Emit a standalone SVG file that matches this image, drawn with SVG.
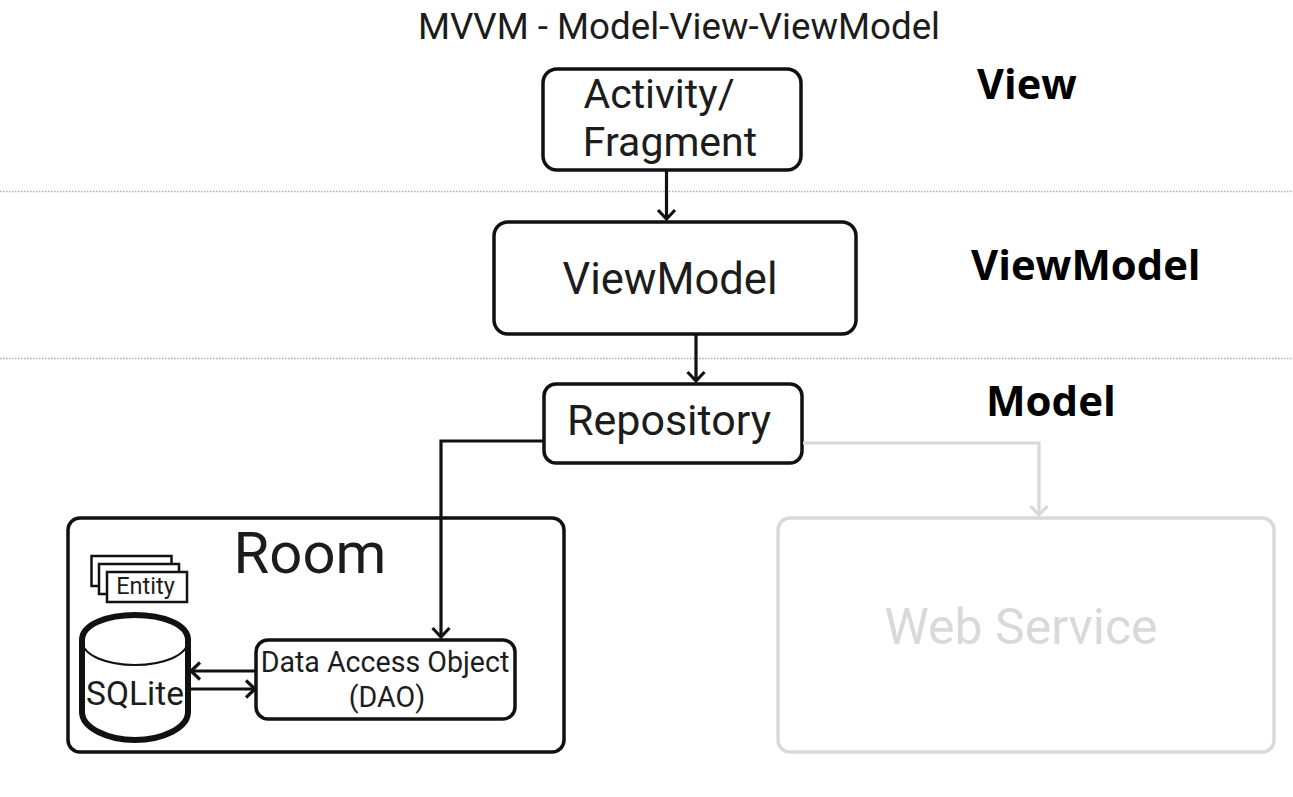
<svg xmlns="http://www.w3.org/2000/svg" width="1293" height="797" viewBox="0 0 1293 797">
<style>
text{font-family:Roboto,"Liberation Sans",sans-serif;fill:#1c1c1c;text-anchor:middle}
.b{fill:#fff;stroke:#111;stroke-width:3.500}
.g{fill:#fff;stroke:#d9d9d9;stroke-width:3.500}
.l{font-family:"Open Sans","Liberation Sans",sans-serif;font-weight:700;fill:#000;text-anchor:start}
.c{fill:none;stroke:#111;stroke-width:3.200}
.gc{fill:none;stroke:#d9d9d9;stroke-width:3.200}
.d{stroke:#aaa;stroke-width:1.500;stroke-dasharray:1.500 1.500;fill:none}
</style>
<rect width="1293" height="797" fill="#fff"/>
<text id="title" x="679" y="39" font-size="36.700">MVVM - Model-View-ViewModel</text>
<g id="separators">
<path class="d" d="M0 191.500H1293"/>
<path class="d" d="M0 358.500H1293"/>
</g>
<g id="layer-labels">
<text class="l" x="977" y="99" font-size="41.500">View</text>
<text class="l" x="971" y="280" font-size="41.800">ViewModel</text>
<text class="l" x="986" y="416" font-size="42">Model</text>
</g>
<g id="activity-fragment">
<rect class="b" x="543" y="69" width="258" height="101" rx="14"/>
<text x="659" y="108" font-size="41">Activity/</text>
<text x="670" y="156" font-size="41">Fragment</text>
</g>
<g id="viewmodel">
<rect class="b" x="494" y="222" width="362" height="112" rx="14"/>
<text x="670" y="294" font-size="43.500">ViewModel</text>
</g>
<g id="repository">
<rect class="b" x="544" y="384" width="258" height="79" rx="12"/>
<text x="669" y="435" font-size="43">Repository</text>
</g>
<g id="room">
<rect class="b" x="68" y="518" width="496" height="234" rx="12"/>
<text x="310" y="573" font-size="58">Room</text>
</g>
<g id="entity">
<rect x="91.500" y="556" width="80" height="30" fill="#fff" stroke="#111" stroke-width="2.500"/>
<rect x="99" y="564" width="80" height="30" fill="#fff" stroke="#111" stroke-width="2.500"/>
<rect x="107" y="572" width="80" height="30" fill="#fff" stroke="#111" stroke-width="2.500"/>
<text x="145.500" y="594" font-size="23.500">Entity</text>
</g>
<g id="sqlite">
<path d="M82 640V712C82 728 108 740 135 740C162 740 188 728 188 712V640C188 624 162 615 135 615C108 615 82 624 82 640Z" fill="#fff" stroke="#111" stroke-width="6"/>
<path d="M82 640C82 656 108 665 135 665C162 665 188 656 188 640" fill="none" stroke="#111" stroke-width="2"/>
<text x="135" y="705" font-size="33.500">SQLite</text>
</g>
<g id="dao">
<rect class="b" x="256" y="640" width="259" height="79" rx="12"/>
<text x="385" y="672" font-size="28.600">Data Access Object</text>
<text x="387" y="707" font-size="28.600">(DAO)</text>
</g>
<g id="web-service">
<rect class="g" x="778" y="518" width="496" height="234" rx="12"/>
<text x="1021" y="644" font-size="50" style="fill:#d9d9d9">Web Service</text>
</g>
<g id="connectors">
<path class="c" d="M666.500 170V219"/><path class="c" d="M658 210L666.500 219L675 210"/>
<path class="c" d="M696 334V381"/><path class="c" d="M687.500 372L696 381L704.500 372"/>
<path class="c" d="M543 441H441V637"/><path class="c" d="M432.500 628L441 637L449.500 628"/>
<path class="gc" d="M803 443H1039V515"/><path class="gc" d="M1030.500 506L1039 515L1047.500 506"/>
<path class="c" d="M256 671H191"/><path class="c" d="M200 662.500L191 671L200 679.500"/>
<path class="c" d="M190 689H255"/><path class="c" d="M246 680.500L255 689L246 697.500"/>
</g>
</svg>
